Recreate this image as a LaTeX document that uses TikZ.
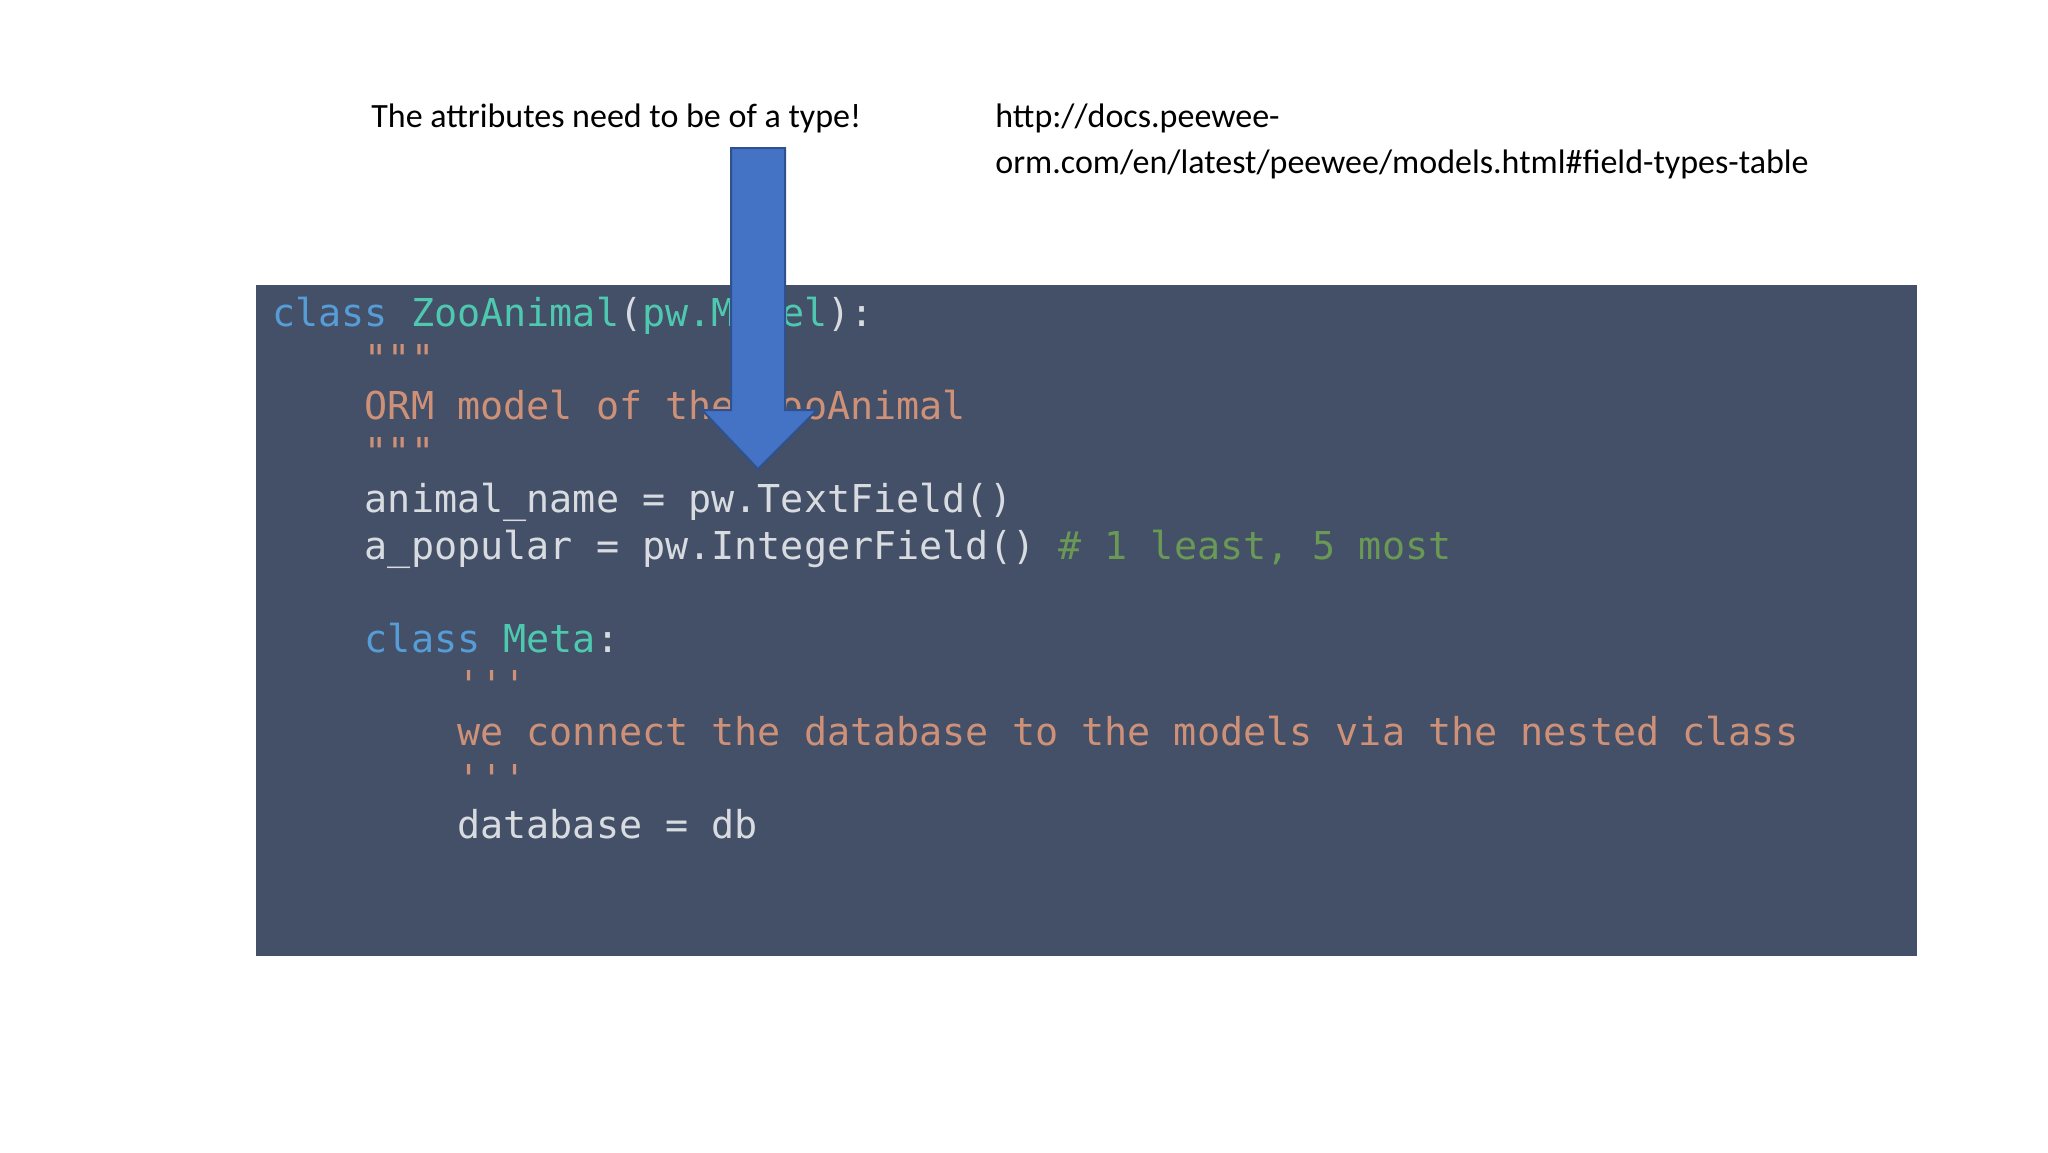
\documentclass[tikz,border=0pt]{standalone}
\usepackage{fontspec}
\setmainfont{Carlito}
\setmonofont{DejaVu Sans Mono}
\definecolor{bgc}{HTML}{435068}
\definecolor{kw}{HTML}{569CD6}
\definecolor{cls}{HTML}{4EC9B0}
\definecolor{str}{HTML}{CE9178}
\definecolor{cmt}{HTML}{6A9955}
\definecolor{txt}{HTML}{D8DCE0}
\definecolor{arr}{HTML}{4472C4}
\definecolor{arrd}{HTML}{2F528F}
\begin{document}
\begin{tikzpicture}[x=0.5pt,y=-0.5pt,
  code/.style={anchor=base west,inner sep=0pt,font=\ttfamily\fontsize{19.2pt}{23pt}\selectfont,text=txt},
  lbl/.style={anchor=base west,inner sep=0pt,font=\fontsize{17pt}{23pt}\selectfont}]
\useasboundingbox (0,0) rectangle (2048,1152);
\fill[bgc] (256,285) rectangle (1917,956);
\node[code] (l1) at (272,326) {\textcolor{kw}{class} \textcolor{cls}{ZooAnimal}(\textcolor{cls}{pw.Model}):};
\node[code] (l2) at (272,372.6) {\textcolor{str}{\ \ \ \ """}};
\node[code] (l3) at (272,419.2) {\textcolor{str}{\ \ \ \ ORM model of the ZooAnimal}};
\node[code] (l4) at (272,465.8) {\textcolor{str}{\ \ \ \ """}};
\node[code] (l5) at (272,512.4) {\ \ \ \ animal\_name = pw.TextField()};
\node[code] (l6) at (272,559) {\ \ \ \ a\_popular = pw.IntegerField() \textcolor{cmt}{\# 1 least, 5 most}};
\node[code] (l7) at (272,652.2) {\ \ \ \ \textcolor{kw}{class} \textcolor{cls}{Meta}:};
\node[code] (l8) at (272,698.8) {\textcolor{str}{\ \ \ \ \ \ \ \ '''}};
\node[code] (l9) at (272,745.4) {\textcolor{str}{\ \ \ \ \ \ \ \ we connect the database to the models via the nested class}};
\node[code] (l10) at (272,792) {\textcolor{str}{\ \ \ \ \ \ \ \ '''}};
\node[code] (l11) at (272,838.6) {\ \ \ \ \ \ \ \ database = db};
\fill[arr,draw=arrd,line width=1pt] (731,148) -- (785,148) -- (785,410) -- (817,410) -- (758,469) -- (702,410) -- (731,410) -- cycle;
\node[lbl] (t1) at (371,127) {The attributes need to be of a type!};
\node[lbl] (u1) at (995,127) {http://docs.peewee-};
\node[lbl] (u2) at (995,173) {orm.com/en/latest/peewee/models.html\#field-types-table};
\end{tikzpicture}
\end{document}
